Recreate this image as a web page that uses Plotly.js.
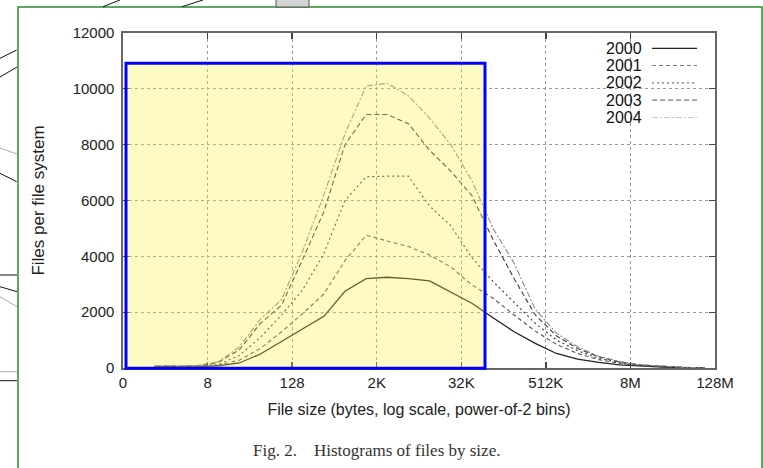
<!DOCTYPE html>
<html>
<head>
<meta charset="utf-8">
<script src="https://cdn.plot.ly/plotly-3.0.1.min.js"></script>
<style>
html,body{margin:0;padding:0;background:#fff;}
#chart{width:763px;height:468px;}
</style>
</head>
<body>
<div id="chart"></div>
<script>
// ---- data (x = log2 of file size, bin centre) ----
const log2Bin = [0.5,1.5,2.5,3.5,4.5,5.5,6.5,7.5,8.5,9.5,10.5,11.5,12.5,13.5,14.5,15.5,16.5,17.5,18.5,19.5,20.5,21.5,22.5,23.5,24.5,25.5,26.5];
const years = ['2000','2001','2002','2003','2004'];
const files2000 = [50,40,50,80,180,500,950,1400,1850,2750,3200,3250,3200,3120,2720,2320,1800,1300,880,520,320,200,110,60,30,14,5];
const files2001 = [60,50,60,100,280,700,1300,1950,2650,3850,4750,4550,4350,4050,3620,2980,2500,1900,1320,850,520,300,160,80,40,16,5];
const files2002 = [70,60,70,120,450,1100,1900,2800,4100,6000,6850,6870,6870,5800,5100,3950,3100,2350,1600,1000,620,350,190,95,45,18,6];
const files2003 = [80,70,80,200,650,1600,2250,3900,5600,8000,9080,9080,8750,7800,7050,6180,4600,3200,1900,1150,700,400,210,110,55,22,7];
const files2004 = [90,80,90,220,750,1750,2450,4200,6200,8400,10100,10200,9750,8950,8000,6720,5000,3750,2100,1250,760,420,230,120,60,25,8];
const xTickVals = [-1,3,7,11,15,19,23,27];
const xTickText = ['0','8','128','2K','32K','512K','8M','128M'];
const yTickVals = [0,2000,4000,6000,8000,10000,12000];
const yTickText = ['0','2000','4000','6000','8000','10000','12000'];

const series = [files2000, files2001, files2002, files2003, files2004];
const styles = [
  {color:'#222222', dash:'solid', width:1.3},
  {color:'#555555', dash:'4px,3px', width:1.1},
  {color:'#444444', dash:'2px,3px', width:1.2},
  {color:'#3a3a3a', dash:'5px,3px', width:1.1},
  {color:'#8a8a8a', dash:'6px,2px,2px,2px', width:1.1}
];

const traces = series.map((ys,i)=>({
  type:'scatter', mode:'lines', name:years[i],
  x: log2Bin, y: ys,
  line:{color:styles[i].color, dash:styles[i].dash, width:styles[i].width},
  showlegend:false, hoverinfo:'skip'
}));

// plot box in pixels
const L=123, R=715, T=33, B=368;
const px = v => (v-L)/(R-L);
const py = v => (B-v)/(B-T);

const FONT = 'Liberation Sans, Arial, Helvetica, sans-serif';
const shapes = [];
const annotations = [];

// highlight box
shapes.push({type:'rect', xref:'paper', yref:'paper', layer:'above',
  x0:px(126), x1:px(485), y0:py(368.3), y1:py(63.3),
  fillcolor:'rgba(248,238,55,0.30)', line:{color:'#0000ff', width:3}});

// legend (text then sample, gnuplot style)
const legY = [48.3, 65.5, 82.8, 100.2, 117.5];
years.forEach((yr,i)=>{
  annotations.push({xref:'paper', yref:'paper', x:px(644), y:py(legY[i]),
    xanchor:'right', yanchor:'middle', text:yr, showarrow:false,
    font:{family:FONT, size:16, color:'#111'}});
  shapes.push({type:'line', xref:'paper', yref:'paper', layer:'above',
    x0:px(652), x1:px(697), y0:py(legY[i]), y1:py(legY[i]),
    line:{color: i===4 ? '#c8c8c8' : (i===0 ? '#222' : '#777'), dash:styles[i].dash, width:1.2}});
});

// caption
annotations.push({xref:'paper', yref:'paper', x:px(376), y:py(450),
  xanchor:'center', yanchor:'middle', showarrow:false,
  text:'Fig. 2.&nbsp;&nbsp;&nbsp; Histograms of files by size.',
  font:{family:'Liberation Serif, Times New Roman, serif', size:17, color:'#333'}});

// surrounding page decorations
shapes.push({type:'rect', xref:'paper', yref:'paper', layer:'above',
  x0:px(18), x1:px(762), y0:py(490), y1:py(7), line:{color:'#2a8a2a', width:1.5}});
const clutter = [
  [0,58.3,16.7,50,'#111'],[0,77,17,67,'#111'],[0,148,17,154,'#aaa'],
  [0,173.3,16.7,181.7,'#111'],[0,275,17,275,'#111'],[0,286.7,17,291.7,'#111'],
  [0,296.7,17,306.7,'#aaa'],[0,371.7,17,371.7,'#aaa'],[0,380.7,17,380.7,'#111'],
  [103,6.7,120,0,'#111'],[182,6.7,203,0,'#111']
];
clutter.forEach(c=>shapes.push({type:'line', xref:'paper', yref:'paper', layer:'above',
  x0:px(c[0]), y0:py(c[1]), x1:px(c[2]), y1:py(c[3]), line:{color:c[4], width:1}}));
shapes.push({type:'rect', xref:'paper', yref:'paper', layer:'above',
  x0:px(276), x1:px(309), y0:py(7), y1:py(-2), fillcolor:'#d4d4d4', line:{color:'#555', width:1}});

const axisCommon = {
  showgrid:true, gridcolor:'#9a9a9a', griddash:'dot', gridwidth:1,
  ticks:'inside', ticklen:6, tickwidth:1.3, tickcolor:'#444',
  showline:true, linecolor:'#666', linewidth:1.6, mirror:'ticks',
  zeroline:false, tickfont:{family:FONT, size:15, color:'#222'}
};

const layout = {
  width:763, height:468,
  margin:{l:L, r:763-R, t:T, b:468-B, pad:0},
  paper_bgcolor:'#ffffff', plot_bgcolor:'#ffffff',
  showlegend:false,
  xaxis: Object.assign({}, axisCommon, {
    range:[-1,27], tickmode:'array', tickvals:xTickVals, ticktext:xTickText,
    title:{text:'File size (bytes, log scale, power-of-2 bins)', standoff:14,
      font:{family:FONT, size:16, color:'#222'}}
  }),
  yaxis: Object.assign({}, axisCommon, {
    range:[0,12000], tickmode:'array', tickvals:yTickVals, ticktext:yTickText,
    ticklabelstandoff:4,
    title:{text:'Files per file system', standoff:24,
      font:{family:FONT, size:17, color:'#222'}}
  }),
  shapes: shapes,
  annotations: annotations
};

Plotly.newPlot('chart', traces, layout, {displayModeBar:false, staticPlot:true});
</script>
</body>
</html>
